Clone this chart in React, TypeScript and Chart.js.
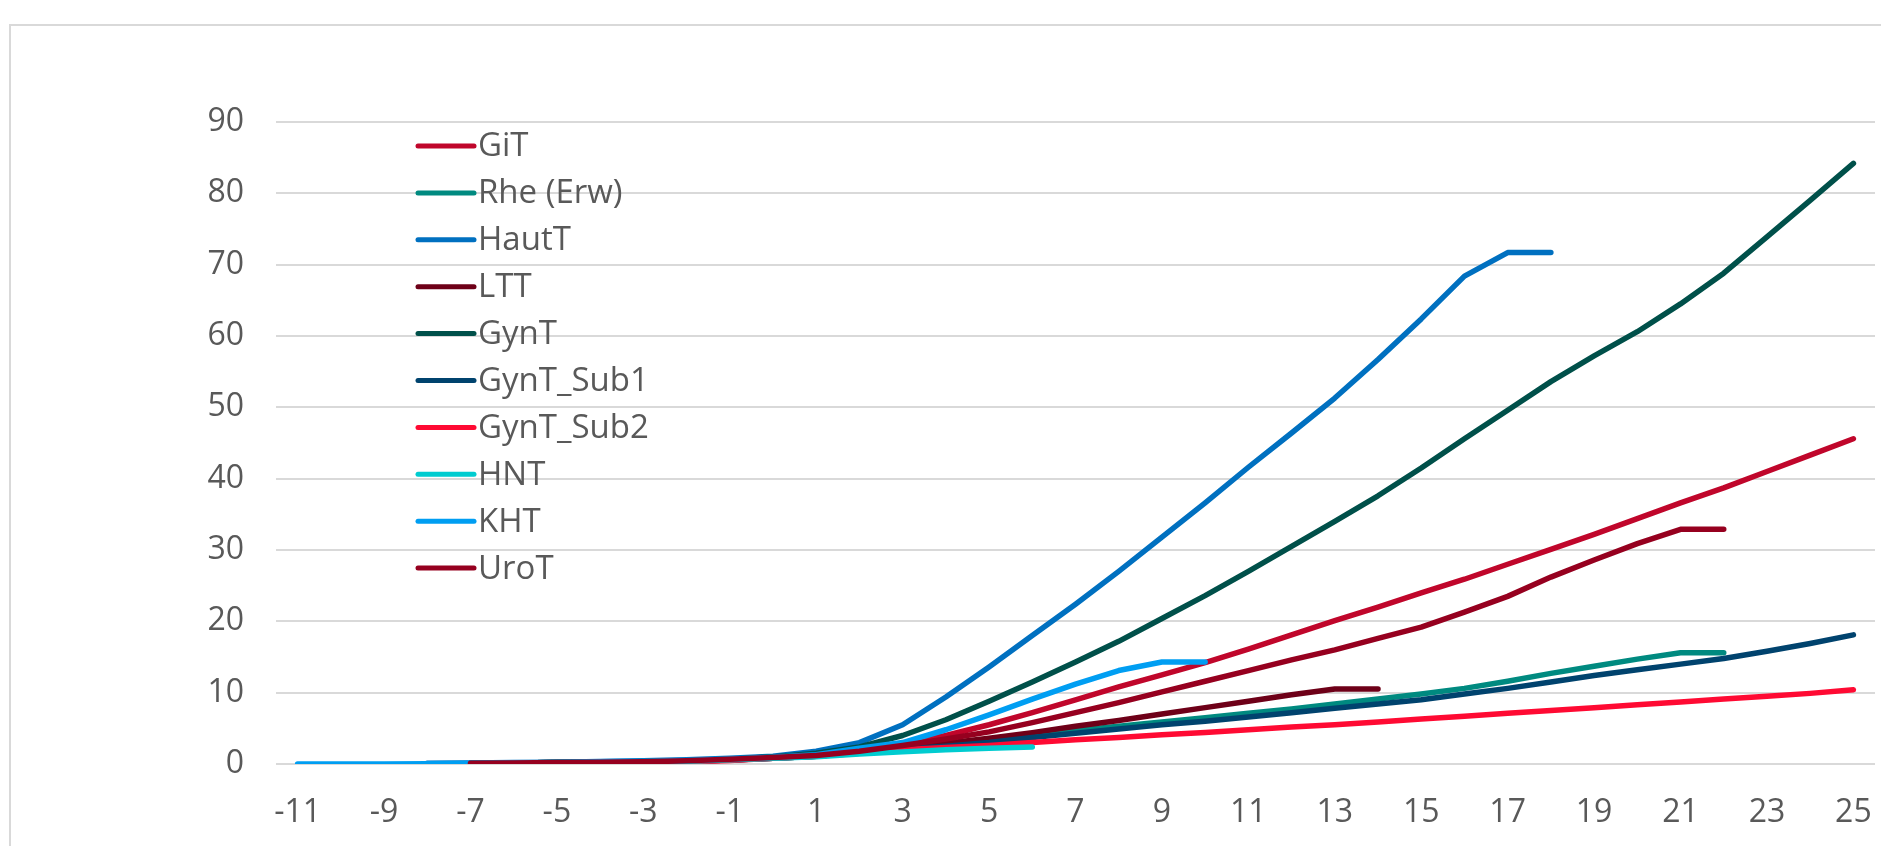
import React, { useEffect, useRef } from "react";
import { Chart, registerables } from "chart.js";

Chart.register(...registerables);

const categories = [-11, -10, -9, -8, -7, -6, -5, -4, -3, -2, -1, 0, 1, 2, 3, 4, 5, 6, 7, 8, 9, 10, 11, 12, 13, 14, 15, 16, 17, 18, 19, 20, 21, 22, 23, 24, 25];

const n = null;

const GiT = [n, n, n, n, 0.1, 0.15, 0.2, 0.25, 0.3, 0.45, 0.65, 0.9, 1.3, 1.9, 2.8, 4.0, 5.5, 7.2, 9.0, 10.8, 12.5, 14.2, 16.1, 18.1, 20.1, 22.0, 24.0, 25.9, 28.0, 30.1, 32.2, 34.4, 36.6, 38.7, 41.0, 43.3, 45.6];
const RheErw = [n, n, n, n, 0.1, 0.15, 0.2, 0.25, 0.3, 0.4, 0.55, 0.8, 1.1, 1.6, 2.2, 2.8, 3.3, 4.0, 4.7, 5.3, 5.9, 6.5, 7.1, 7.7, 8.4, 9.1, 9.8, 10.6, 11.6, 12.7, 13.7, 14.7, 15.6, 15.6, n, n, n];
const HautT = [n, n, n, 0.1, 0.15, 0.2, 0.25, 0.35, 0.45, 0.6, 0.8, 1.1, 1.8, 3.0, 5.5, 9.4, 13.6, 18.0, 22.4, 27.0, 31.8, 36.6, 41.6, 46.4, 51.3, 56.7, 62.4, 68.4, 71.7, 71.7, n, n, n, n, n, n, n];
const LTT = [n, n, n, n, 0.1, 0.15, 0.2, 0.25, 0.3, 0.4, 0.55, 0.8, 1.1, 1.6, 2.2, 2.9, 3.6, 4.4, 5.3, 6.1, 7.0, 7.9, 8.8, 9.7, 10.5, 10.5, n, n, n, n, n, n, n, n, n, n, n];
const GynT = [n, n, n, n, 0.1, 0.15, 0.2, 0.25, 0.35, 0.45, 0.65, 1.0, 1.5, 2.4, 4.0, 6.2, 8.8, 11.5, 14.3, 17.2, 20.4, 23.6, 27.0, 30.5, 34.0, 37.6, 41.5, 45.6, 49.6, 53.6, 57.2, 60.6, 64.5, 68.8, 73.9, 79.0, 84.2];
const GynTSub1 = [n, n, n, n, 0.1, 0.15, 0.2, 0.25, 0.3, 0.4, 0.55, 0.8, 1.1, 1.5, 2.1, 2.5, 3.0, 3.7, 4.3, 4.9, 5.5, 6.0, 6.6, 7.2, 7.8, 8.4, 9.0, 9.8, 10.6, 11.5, 12.4, 13.2, 14.0, 14.8, 15.8, 16.9, 18.1];
const GynTSub2 = [n, n, n, n, n, n, n, n, n, 0.3, 0.5, 0.8, 1.1, 1.6, 2.0, 2.3, 2.6, 3.0, 3.4, 3.7, 4.1, 4.4, 4.8, 5.2, 5.5, 5.9, 6.3, 6.7, 7.1, 7.5, 7.9, 8.3, 8.7, 9.1, 9.5, 9.9, 10.4];
const HNT = [n, n, n, n, 0.1, 0.15, 0.2, 0.25, 0.3, 0.4, 0.6, 0.8, 1.0, 1.4, 1.7, 2.0, 2.2, 2.4, n, n, n, n, n, n, n, n, n, n, n, n, n, n, n, n, n, n, n];
const KHT = [0, 0, 0, 0.05, 0.1, 0.15, 0.2, 0.3, 0.4, 0.5, 0.7, 0.95, 1.3, 2.2, 3.0, 4.8, 6.9, 9.1, 11.2, 13.1, 14.3, 14.3, n, n, n, n, n, n, n, n, n, n, n, n, n, n, n];
const UroT = [n, n, n, n, 0.1, 0.15, 0.2, 0.25, 0.3, 0.45, 0.65, 0.9, 1.2, 1.8, 2.6, 3.5, 4.5, 5.8, 7.2, 8.6, 10.1, 11.6, 13.1, 14.6, 16.0, 17.6, 19.2, 21.3, 23.5, 26.2, 28.6, 30.9, 32.9, 32.9, n, n, n];

const seriesNames = ["GiT", "Rhe (Erw)", "HautT", "LTT", "GynT", "GynT_Sub1", "GynT_Sub2", "HNT", "KHT", "UroT"];
const seriesValues = [GiT, RheErw, HautT, LTT, GynT, GynTSub1, GynTSub2, HNT, KHT, UroT];
const seriesColors = ["#C0062B", "#008A80", "#0070C0", "#6E0018", "#00504A", "#00436E", "#FF0A33", "#00CCD0", "#009EF2", "#96001F"];

const yTicks = [0, 10, 20, 30, 40, 50, 60, 70, 80, 90];

const FONT = "'Open Sans', 'DejaVu Sans', sans-serif";
const TEXT_COLOR = "#595959";

const insideLegend = {
  id: "insideLegend",
  afterDatasetsDraw(chart: any) {
    const ctx = chart.ctx;
    ctx.save();
    const x0 = 418;
    const x1 = 474;
    const y0 = 146;
    const step = 46.9;
    chart.data.datasets.forEach((ds: any, i: number) => {
      const y = y0 + i * step;
      ctx.strokeStyle = ds.borderColor;
      ctx.lineWidth = 5;
      ctx.lineCap = "round";
      ctx.beginPath();
      ctx.moveTo(x0, y);
      ctx.lineTo(x1, y);
      ctx.stroke();
      ctx.fillStyle = TEXT_COLOR;
      ctx.font = `33px ${FONT}`;
      ctx.textBaseline = "middle";
      ctx.textAlign = "left";
      ctx.fillText(ds.label, x1 + 4, y + 1);
    });
    ctx.restore();
  },
};

export default function App() {
  const canvasRef = useRef<HTMLCanvasElement | null>(null);

  useEffect(() => {
    const canvas = canvasRef.current;
    if (!canvas) return;
    const chart = new Chart(canvas, {
      type: "line",
      data: {
        labels: categories.map(String),
        datasets: seriesNames.map((name, i) => ({
          label: name,
          data: seriesValues[i],
          borderColor: seriesColors[i],
          backgroundColor: seriesColors[i],
          borderWidth: 5.5,
          borderCapStyle: "round",
          borderJoinStyle: "round",
          pointRadius: 0,
          pointHoverRadius: 0,
          tension: 0,
          fill: false,
          spanGaps: false,
          order: seriesNames.length - i,
        })),
      },
      options: {
        animation: false,
        responsive: false,
        devicePixelRatio: 1,
        layout: { padding: { top: 122, left: 0, right: 6, bottom: 0 } },
        plugins: {
          legend: { display: false },
          tooltip: { enabled: false },
        },
        scales: {
          x: {
            type: "category",
            offset: true,
            grid: { display: false, drawTicks: false },
            border: { display: false },
            ticks: {
              autoSkip: false,
              maxRotation: 0,
              minRotation: 0,
              padding: 30,
              color: TEXT_COLOR,
              font: { family: FONT, size: 32 },
              callback: (_v: any, idx: number) => (idx % 2 === 0 ? String(categories[idx]) : ""),
            },
            afterFit: (scale: any) => {
              scale.height = 82;
              scale.paddingLeft = 0;
              scale.paddingRight = 0;
            },
          },
          y: {
            min: yTicks[0],
            max: yTicks[yTicks.length - 1],
            grid: { color: "#D9D9D9", lineWidth: 2, drawTicks: false },
            border: { display: false },
            ticks: {
              stepSize: 10,
              padding: 32,
              color: TEXT_COLOR,
              font: { family: FONT, size: 32 },
            },
            afterFit: (scale: any) => {
              scale.width = 276;
              scale.paddingTop = 0;
              scale.paddingBottom = 0;
            },
          },
        },
      } as any,
      plugins: [insideLegend],
    });
    return () => chart.destroy();
  }, []);

  return (
    <div style={{ position: "fixed", left: 0, top: 0, width: 1881, height: 846, background: "#FFFFFF", overflow: "hidden" }}>
      <div
        style={{
          position: "absolute",
          left: 9,
          top: 24,
          width: 1900,
          height: 900,
          borderTop: "2px solid #D9D9D9",
          borderLeft: "2px solid #D9D9D9",
        }}
      />
      <canvas ref={canvasRef} width={1881} height={846} style={{ position: "absolute", left: 0, top: 0, width: 1881, height: 846 }} />
    </div>
  );
}
